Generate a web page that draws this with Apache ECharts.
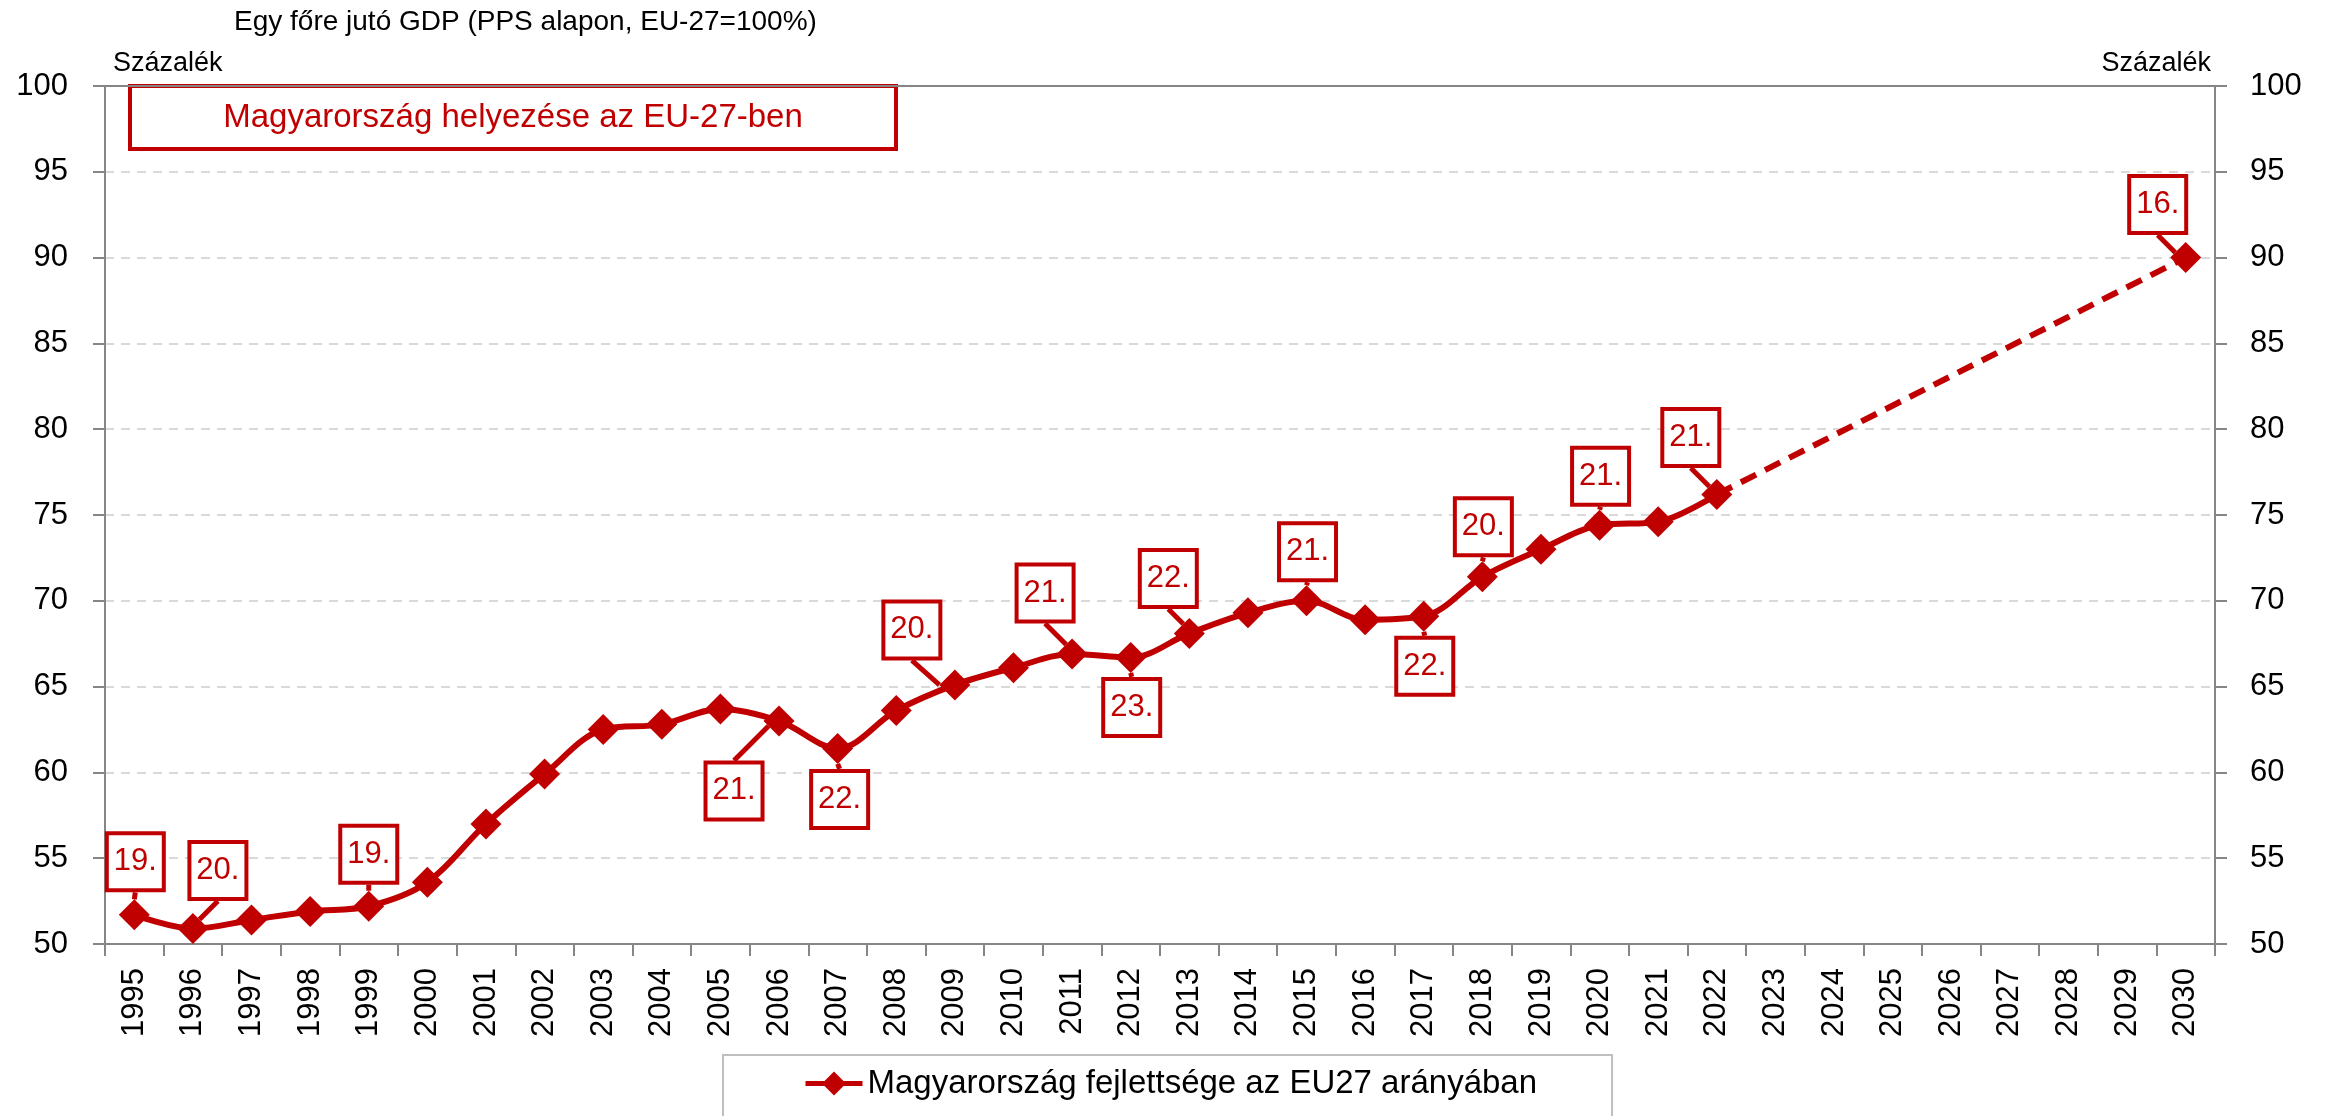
<!DOCTYPE html>
<html>
<head>
<meta charset="utf-8">
<title>Egy főre jutó GDP</title>
<script src="https://cdn.jsdelivr.net/npm/echarts@6/dist/echarts.min.js"></script>
<style>
html, body { margin: 0; padding: 0; background: #fff; }
#chart { width: 2333px; height: 1116px; }
</style>
</head>
<body>
<div id="chart"></div>
<script>
// évek (kategóriák)
var years = ['1995','1996','1997','1998','1999','2000','2001','2002','2003','2004',
             '2005','2006','2007','2008','2009','2010','2011','2012','2013','2014',
             '2015','2016','2017','2018','2019','2020','2021','2022','2023','2024',
             '2025','2026','2027','2028','2029','2030'];

// Magyarország fejlettsége az EU27 arányában (%), tényadatok
var gdpShare = [51.7, 50.9, 51.4, 51.9, 52.2, 53.6, 57.0, 59.9, 62.5, 62.8,
                63.7, 63.0, 61.4, 63.6, 65.1, 66.1, 66.9, 66.7, 68.1, 69.3,
                70.0, 68.9, 69.1, 71.4, 73.0, 74.4, 74.6, 76.2];

// célpálya 2030-ig
var targetYears = ['2022', '2030'];
var targetValues = [76.2, 90.0];

// helyezés az EU-27-ben
var rankYears  = ['1995','1996','1999','2006','2007','2009','2011','2012','2013',
                  '2015','2017','2018','2020','2022','2030'];
var rankLabels = ['19.','20.','19.','21.','22.','20.','21.','23.','22.',
                  '21.','22.','20.','21.','21.','16.'];

var yTicks = { min: 50, max: 100, interval: 5 };

var RED = '#C00000';
var GREY = '#868686';
var FONT = '"Liberation Sans", Arial, sans-serif';

// a szövegdobozok eltolása a ponttól (px)
var calloutOffset = {
    '1995': [1, -53], '1996': [25, -58], '1999': [0, -52],
    '2006': [-45, 70], '2007': [2, 51],  '2009': [-43, -55],
    '2011': [-27, -61], '2012': [1, 50], '2013': [-21, -55],
    '2015': [1, -49],  '2017': [1, 50],  '2018': [1, -50],
    '2020': [1, -49],  '2022': [-26, -57], '2030': [-28, -53]
};

var calloutLabel = {
    position: 'inside',
    color: RED,
    fontSize: 31,
    fontFamily: FONT,
    backgroundColor: '#fff',
    borderColor: RED,
    borderWidth: 4,
    width: 53,
    height: 53,
    lineHeight: 53,
    align: 'center',
    verticalAlign: 'middle'
};

var calloutLine = { show: true, length2: 0, lineStyle: { color: RED, width: 5 } };

function rankOf(year) {
    var k = rankYears.indexOf(year);
    return k >= 0 ? rankLabels[k] : '';
}

/*
 tényadatok sorozata
 * */
var mainData = years.map(function(y, i) {
    var v = i < gdpShare.length ? gdpShare[i] : null;
    var r = v != null ? rankOf(y) : '';
    return { value: v, label: { show: r !== '', formatter: r } };
});

/*
 szaggatott célpálya
 * */
var targetData = years.map(function(y) {
    var k = targetYears.indexOf(y);
    if (k < 0) return null;
    var isLast = k === targetYears.length - 1;
    var r = isLast ? rankOf(y) : '';
    return {
        value: targetValues[k],
        symbol: isLast ? 'diamond' : 'none',
        label: { show: r !== '', formatter: r }
    };
});

function layoutCallout(params) {
    var o = calloutOffset[years[params.dataIndex]];
    return o ? { dx: o[0], dy: o[1] } : {};
}

var _chart = echarts.init(document.getElementById('chart'));
_chart.setOption({
    animation: false,
    backgroundColor: '#fff',
    textStyle: { fontFamily: FONT },
    title: {
        text: 'Egy főre jutó GDP (PPS alapon, EU-27=100%)',
        left: 234,
        top: 8,
        padding: 0,
        textStyle: { fontSize: 28, fontWeight: 'normal', color: '#000', fontFamily: FONT }
    },
    legend: {
        data: ['Magyarország fejlettsége az EU27 arányában'],
        left: 723,
        top: 1055,
        padding: [12, 75, 30, 80],
        borderColor: '#bfbfbf',
        borderWidth: 2,
        itemWidth: 57,
        itemHeight: 30,
        lineStyle: { width: 5 },
        textStyle: { fontSize: 33, color: '#000', fontFamily: FONT }
    },
    grid: {
        left: 105,
        right: 118,
        top: 86,
        bottom: 172
    },
    xAxis: [
        {
            type: 'category',
            data: years,
            boundaryGap: true,
            axisLine: { lineStyle: { color: GREY, width: 2 } },
            axisTick: { show: true, length: 12, lineStyle: { color: GREY, width: 2 } },
            axisLabel: { rotate: 90, fontSize: 31, color: '#000', margin: 24, interval: 0 }
        },
        {
            // felső keretvonal
            type: 'category',
            data: years,
            position: 'top',
            axisLine: { show: true, lineStyle: { color: GREY, width: 2 } },
            axisTick: { show: false },
            axisLabel: { show: false },
            splitLine: { show: false }
        }
    ],
    yAxis: [
        {
            type: 'value',
            min: yTicks.min,
            max: yTicks.max,
            interval: yTicks.interval,
            name: 'Százalék',
            nameLocation: 'end',
            nameGap: 9,
            nameTextStyle: { fontSize: 27, color: '#000', align: 'left', padding: [0, 0, 0, 8] },
            axisLine: { show: true, lineStyle: { color: GREY, width: 2 } },
            axisTick: { show: true, length: 12, lineStyle: { color: GREY, width: 2 } },
            axisLabel: { fontSize: 31, color: '#000', margin: 37 },
            splitLine: { lineStyle: { color: '#d9d9d9', width: 2, type: [9, 7] } }
        },
        {
            type: 'value',
            position: 'right',
            min: yTicks.min,
            max: yTicks.max,
            interval: yTicks.interval,
            name: 'Százalék',
            nameLocation: 'end',
            nameGap: 9,
            nameTextStyle: { fontSize: 27, color: '#000', align: 'right', padding: [0, 4, 0, 0] },
            axisLine: { show: true, lineStyle: { color: GREY, width: 2 } },
            axisTick: { show: true, length: 12, lineStyle: { color: GREY, width: 2 } },
            axisLabel: { fontSize: 31, color: '#000', margin: 35 },
            splitLine: { show: false }
        }
    ],
    graphic: [
        {
            type: 'group',
            left: 128,
            top: 84,
            z: 10,
            children: [
                {
                    type: 'rect',
                    shape: { x: 0, y: 0, width: 766, height: 63 },
                    style: { fill: '#fff', stroke: RED, lineWidth: 4 }
                },
                {
                    type: 'text',
                    x: 383,
                    y: 32,
                    style: {
                        text: 'Magyarország helyezése az EU-27-ben',
                        fill: RED,
                        font: '33px ' + FONT,
                        textAlign: 'center',
                        textVerticalAlign: 'middle'
                    }
                }
            ]
        }
    ],
    series: [
        {
            name: 'Előrejelzés',
            type: 'line',
            data: targetData,
            connectNulls: true,
            symbol: 'diamond',
            symbolSize: 31,
            z: 2,
            itemStyle: { color: RED },
            lineStyle: { color: RED, width: 6, type: [17, 10] },
            label: calloutLabel,
            labelLine: calloutLine,
            labelLayout: layoutCallout
        },
        {
            name: 'Magyarország fejlettsége az EU27 arányában',
            type: 'line',
            data: mainData,
            smooth: 0.35,
            symbol: 'diamond',
            symbolSize: 31,
            z: 3,
            itemStyle: { color: RED },
            lineStyle: { color: RED, width: 6 },
            label: calloutLabel,
            labelLine: calloutLine,
            labelLayout: layoutCallout
        }
    ]
});
</script>
</body>
</html>
